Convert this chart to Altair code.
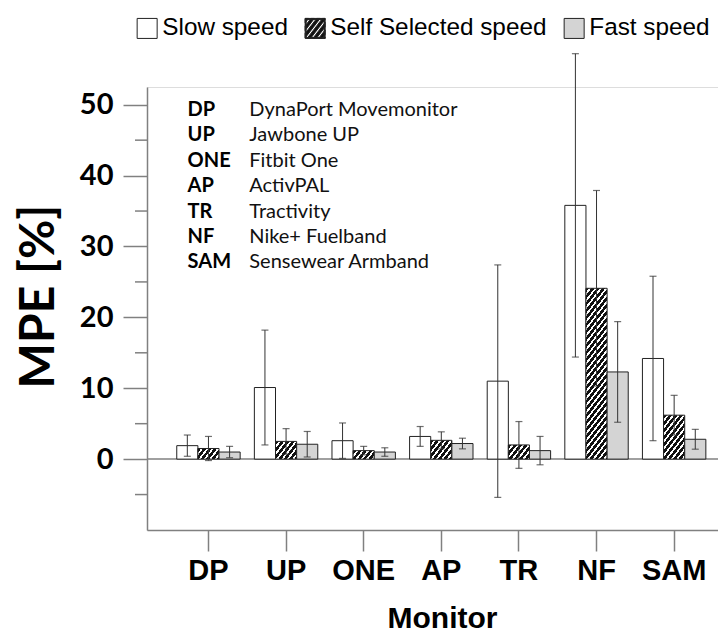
import altair as alt

# ---------------- data ----------------
monitors = ["DP", "UP", "ONE", "AP", "TR", "NF", "SAM"]
monitor_names = ["DynaPort Movemonitor", "Jawbone UP", "Fitbit One", "ActivPAL",
                 "Tractivity", "Nike+ Fuelband", "Sensewear Armband"]
speeds = ["Slow speed", "Self Selected speed", "Fast speed"]

slow_mpe = [1.9, 10.1, 2.6, 3.2, 11.0, 35.8, 14.2]
slow_sd = [1.5, 8.1, 2.5, 1.4, 16.4, 21.4, 11.6]
self_mpe = [1.5, 2.5, 1.2, 2.65, 2.0, 24.1, 6.2]
self_sd = [1.7, 1.8, 0.6, 1.2, 3.3, 13.8, 2.8]
fast_mpe = [1.0, 2.1, 1.0, 2.2, 1.2, 12.3, 2.8]
fast_sd = [0.8, 1.8, 0.6, 0.75, 2.0, 7.1, 1.4]

y_major_ticks = [0, 10, 20, 30, 40, 50]
y_minor_ticks = [-5, 5, 15, 25, 35, 45]

# ---------------- layout / style ----------------
W, H = 571, 443
Y_DOMAIN = [-10, 52.5]
PI, PO, ALIGN = 0.183, 0.27, 0.71
STEP = W / (len(monitors) - PI + 2 * PO)
BAR_W = STEP * (1 - PI) / len(speeds)
PX = H / (Y_DOMAIN[1] - Y_DOMAIN[0])
GREY = "#808080"
INK = "#111111"
SLOW_FILL = "white"
FAST_FILL = "#d4d4d4"


def hatch(w, h, s=1.3, period=7.0, duty=0.6):
    """diagonal black/white stripes as a linear gradient for a w x h box"""
    total = s * w + h
    a, b = s * w / total, h / total
    n2 = a * a + b * b
    stops = []
    g = 0.0
    while g < total - 1e-9:
        gm = min(g + duty * period, total)
        ge = min(g + period, total)
        stops += [(g, INK), (gm, INK), (gm, "white"), (ge, "white")]
        g += period
    return {"gradient": "linear", "x1": 0, "y1": 0,
            "x2": round(a / n2, 5), "y2": round(b / n2, 5),
            "stops": [{"offset": round(o / total, 5), "color": c} for o, c in stops]}


def clip(poly, a, b, c):
    """keep part of polygon with a*x + b*y <= c"""
    out = []
    n = len(poly)
    for i in range(n):
        p, q = poly[i], poly[(i + 1) % n]
        fp = a * p[0] + b * p[1] - c
        fq = a * q[0] + b * q[1] - c
        if fp <= 0:
            out.append(p)
        if (fp < 0 < fq) or (fq < 0 < fp):
            t = fp / (fp - fq)
            out.append((p[0] + t * (q[0] - p[0]), p[1] + t * (q[1] - p[1])))
    return out


def hatch_symbol(s=1.3, period=0.75, duty=0.6, inner=0.9):
    sq = [(-1, -1), (1, -1), (1, 1), (-1, 1)]
    parts = ["M-1,-1L1,-1L1,1L-1,1Z",
             f"M{-inner},{-inner}L{-inner},{inner}L{inner},{inner}L{inner},{-inner}Z"]
    g = -(s + 1)
    while g < s + 1:
        lo, hi = g, g + duty * period
        poly = clip(clip(sq, s, 1, hi), -s, -1, -lo)
        if len(poly) >= 3:
            parts.append("M" + "L".join(f"{x:.3f},{y:.3f}" for x, y in poly) + "Z")
        g += period
    return "".join(parts)


HATCH_PATH = hatch_symbol()

rows = []
for sp, means, sds in zip(speeds, [slow_mpe, self_mpe, fast_mpe], [slow_sd, self_sd, fast_sd]):
    for m, v, e in zip(monitors, means, sds):
        if sp == speeds[1]:
            pat = hatch(BAR_W, v * PX)
        elif sp == speeds[0]:
            pat = SLOW_FILL
        else:
            pat = FAST_FILL
        rows.append({"monitor": m, "speed": sp, "mpe": v, "sd": e, "pattern": pat})
data = alt.Data(values=rows)

# ---------------- encodings ----------------
x_axis = alt.Axis(labelAngle=0, labelFont="Liberation Sans", labelFontWeight="bold",
                  labelFontSize=29, labelColor="black", labelPadding=5,
                  tickSize=21, tickColor=GREY, tickWidth=1.5,
                  domainColor=GREY, domainWidth=1.5, grid=False,
                  titleFont="Liberation Sans", titleFontSize=30, titleFontWeight="bold",
                  titleColor="black", titleX=295, titleY=88, titleAlign="center",
                  titleBaseline="middle")
x_enc = alt.X("monitor:N", sort=monitors, title="Monitor",
              scale=alt.Scale(domain=monitors, paddingInner=PI, paddingOuter=PO, align=ALIGN),
              axis=x_axis)
xoff = alt.XOffset("speed:N", sort=speeds,
                   scale=alt.Scale(domain=speeds, paddingInner=0, paddingOuter=0))

y_axis = alt.Axis(values=y_major_ticks, tickSize=24,
                  tickColor=GREY, tickWidth=1.5, domainColor=GREY, domainWidth=1.5, grid=False,
                  labelFont="Lato", labelFontWeight="bold", labelFontSize=29,
                  labelColor="black", labelPadding=10,
                  titleFont="Lato", titleFontWeight="bold", titleFontSize=48,
                  titleColor="black", titleAngle=270, titleX=-108, titleY=209,
                  titleAlign="center", titleBaseline="middle")
y_scale = alt.Scale(domain=Y_DOMAIN, nice=False, zero=False)


def yq(field):
    return alt.Y(field, title="MPE [%]", scale=y_scale, axis=y_axis)


zero = alt.Chart(alt.Data(values=[{"v": 0}])).mark_rule(color=GREY, strokeWidth=1.5).encode(
    y=yq("v:Q"))

minor = alt.Chart(alt.Data(values=[{"v": v} for v in y_minor_ticks])).mark_rule(
    color=GREY, strokeWidth=1.5).encode(
    y=yq("v:Q"), x=alt.value(-12), x2=alt.value(0))

bars = alt.Chart(data).mark_bar(stroke="#222", strokeWidth=1).encode(
    x=x_enc, xOffset=xoff, y=yq("mpe:Q"),
    fill=alt.Fill("pattern:N", scale=None))

err_base = alt.Chart(data).transform_calculate(
    lo="datum.mpe - datum.sd", hi="datum.mpe + datum.sd")
err = err_base.mark_rule(color="#333", strokeWidth=1).encode(
    x=x_enc, xOffset=xoff, y=yq("lo:Q"), y2="hi:Q")
cap_hi = err_base.mark_tick(color="#333", size=7, thickness=1.2).encode(
    x=x_enc, xOffset=xoff, y=yq("hi:Q"))
cap_lo = err_base.mark_tick(color="#333", size=7, thickness=1.2).encode(
    x=x_enc, xOffset=xoff, y=yq("lo:Q"))

abbr = alt.Chart(alt.Data(values=[{"t": "\n".join(monitors)}])).mark_text(
    align="left", baseline="middle", font="Lato", fontSize=20, fontWeight="bold",
    lineHeight=25.4, lineBreak="\n", color="black").encode(
    x=alt.value(40.6), y=alt.value(23), text="t:N")
names = alt.Chart(alt.Data(values=[{"t": "\n".join(monitor_names)}])).mark_text(
    align="left", baseline="middle", font="Lato", fontSize=20,
    lineHeight=25.4, lineBreak="\n", color="#111").encode(
    x=alt.value(102.3), y=alt.value(23), text="t:N")

leg = alt.Legend(title=None, orient="none", legendX=-12, legendY=-71,
                 direction="horizontal", columns=3, symbolSize=400,
                 symbolStrokeColor="#222", symbolStrokeWidth=1, symbolOpacity=1,
                 labelFont="Liberation Sans", labelFontSize=24.3, labelColor="black",
                 labelOffset=3, columnPadding=15, labelLimit=400, padding=0)
legend_layer = alt.Chart(data).transform_filter("false").mark_point(
    filled=True, size=400, stroke="#222", strokeWidth=1).encode(
    x=x_enc, xOffset=xoff, y=yq("mpe:Q"),
    fill=alt.Fill("speed:N", legend=leg,
                  scale=alt.Scale(domain=speeds, range=["white", INK, FAST_FILL])),
    shape=alt.Shape("speed:N", legend=leg,
                    scale=alt.Scale(domain=speeds, range=["square", HATCH_PATH, "square"])))

chart = alt.layer(zero, minor, bars, err, cap_hi, cap_lo, abbr, names, legend_layer).properties(
    width=W, height=H,
    autosize=alt.AutoSizeParams(type="none"),
    padding={"left": 139, "top": 79, "right": 0, "bottom": 106},
).configure_view(stroke=None).configure(background="white")

chart.save("out.html", embed_options={"renderer": "svg", "actions": False})
